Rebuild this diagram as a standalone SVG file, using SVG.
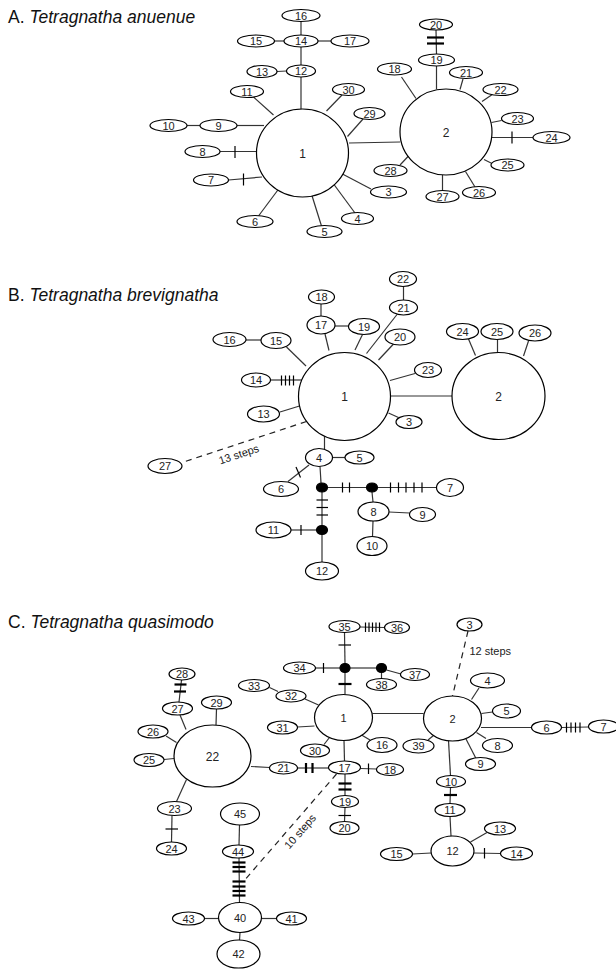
<svg xmlns="http://www.w3.org/2000/svg" width="616" height="970" viewBox="0 0 616 970">
<style>
.bg{fill:#fff}
ellipse{fill:#fff;stroke:#000;stroke-width:1.2}
.dot{fill:#000;stroke:#000}
text{font-family:"Liberation Sans",Arial,sans-serif;font-size:11px;fill:#222;text-anchor:middle}
.big{font-size:12px}
.title{font-size:17.5px;text-anchor:start;fill:#111}
.it{font-style:italic}
#edges line{stroke:#333;stroke-width:1.2}
#edges .dash{stroke:#222;stroke-dasharray:6,5;stroke-width:1.2}
#ticks line{stroke:#000;stroke-width:1.2}
#ticks .tk{stroke-width:2.2}
.step{font-size:11px;fill:#222}
</style>
<rect class="bg" x="0" y="0" width="616" height="970"/>
<text class="title" x="8" y="23">A. <tspan class="it">Tetragnatha anuenue</tspan></text>
<text class="title" x="8" y="301">B. <tspan class="it">Tetragnatha brevignatha</tspan></text>
<text class="title" x="8" y="628">C. <tspan class="it">Tetragnatha quasimodo</tspan></text>

<g id="edges">
<!-- Panel A -->
<line x1="349" y1="143" x2="400" y2="142"/>
<line x1="301" y1="77" x2="301" y2="109"/>
<line x1="301" y1="21.5" x2="301" y2="35"/>
<line x1="274.5" y1="41" x2="284" y2="41"/>
<line x1="318" y1="41" x2="331" y2="41"/>
<line x1="301" y1="47" x2="301" y2="65"/>
<line x1="277" y1="71.5" x2="286.5" y2="71"/>
<line x1="273.5" y1="115" x2="253.5" y2="97"/>
<line x1="326.5" y1="111" x2="342" y2="95"/>
<line x1="347.5" y1="136.5" x2="363" y2="119"/>
<line x1="187" y1="125.5" x2="200" y2="125.5"/>
<line x1="237" y1="125.5" x2="264" y2="125.5"/>
<line x1="220" y1="151.5" x2="256.5" y2="151.5"/>
<line x1="228.5" y1="180" x2="262" y2="177"/>
<line x1="279" y1="188.5" x2="258.5" y2="216"/>
<line x1="311" y1="192.5" x2="321.5" y2="226"/>
<line x1="332.5" y1="182.5" x2="355" y2="213"/>
<line x1="341.5" y1="173.5" x2="371" y2="189"/>
<line x1="416" y1="98.5" x2="401.5" y2="77"/>
<line x1="436.5" y1="66" x2="436.5" y2="89"/>
<line x1="436" y1="30" x2="436.5" y2="54"/>
<line x1="460" y1="89.5" x2="463" y2="79"/>
<line x1="482" y1="101.5" x2="493" y2="94"/>
<line x1="491.5" y1="122.5" x2="501.5" y2="120.5"/>
<line x1="492" y1="137.5" x2="533" y2="137.5"/>
<line x1="484" y1="159.5" x2="495" y2="165"/>
<line x1="465.5" y1="171.5" x2="475" y2="187"/>
<line x1="442.5" y1="175" x2="442.5" y2="190.5"/>
<line x1="408.5" y1="156" x2="400" y2="165"/>
<!-- Panel B -->
<line x1="390.5" y1="396" x2="452" y2="396"/>
<line x1="388.5" y1="413" x2="398.5" y2="417.5"/>
<line x1="324.5" y1="436" x2="324.5" y2="449"/>
<line x1="332.5" y1="457.5" x2="345" y2="457.5"/>
<line x1="309" y1="465" x2="288" y2="481.5"/>
<line x1="320" y1="466.5" x2="321" y2="483"/>
<line x1="322" y1="487.5" x2="372" y2="487.5"/>
<line x1="372" y1="487.5" x2="436.5" y2="487.5"/>
<line x1="372" y1="492" x2="373" y2="502"/>
<line x1="389" y1="512" x2="409.5" y2="513"/>
<line x1="373" y1="521" x2="372.5" y2="536.5"/>
<line x1="322" y1="487.5" x2="322" y2="530"/>
<line x1="291" y1="530" x2="322" y2="530"/>
<line x1="322" y1="530" x2="322" y2="562"/>
<line x1="280" y1="412" x2="299.5" y2="406"/>
<line x1="270.5" y1="380" x2="302" y2="380"/>
<line x1="286.5" y1="347" x2="306" y2="366"/>
<line x1="246" y1="340" x2="261" y2="340"/>
<line x1="329" y1="350.5" x2="325" y2="334"/>
<line x1="321" y1="304" x2="321" y2="316"/>
<line x1="335" y1="326" x2="348.5" y2="326"/>
<line x1="355" y1="350" x2="362.5" y2="334.5"/>
<line x1="366.5" y1="353.5" x2="397" y2="314.5"/>
<line x1="403.5" y1="300" x2="403.5" y2="286.5"/>
<line x1="378.5" y1="360" x2="393.5" y2="344"/>
<line x1="390" y1="380.5" x2="415" y2="373.5"/>
<line x1="468.5" y1="339" x2="475.5" y2="355.5"/>
<line x1="497.5" y1="339.5" x2="497.5" y2="352.5"/>
<line x1="528.5" y1="341" x2="523.5" y2="356"/>
<line class="dash" x1="306.5" y1="421.5" x2="182" y2="462.5"/>
<!-- Panel C -->
<line x1="372.5" y1="713.5" x2="423.5" y2="713.5"/>
<line x1="345" y1="672" x2="345" y2="694.5"/>
<line x1="344.5" y1="632.5" x2="345" y2="664"/>
<line x1="360" y1="627" x2="384.5" y2="627.5"/>
<line x1="315.5" y1="668" x2="340" y2="668"/>
<line x1="350" y1="668" x2="376.5" y2="668"/>
<line x1="381.5" y1="672.5" x2="381.5" y2="678.5"/>
<line x1="386.5" y1="670" x2="401" y2="674"/>
<line x1="269.5" y1="687.5" x2="278" y2="691.5"/>
<line x1="305" y1="699" x2="318.5" y2="705"/>
<line x1="297.5" y1="727" x2="314.5" y2="726"/>
<line x1="324" y1="744.5" x2="329.5" y2="737.5"/>
<line x1="361.5" y1="735" x2="370" y2="740"/>
<line x1="344" y1="740.5" x2="344.5" y2="761"/>
<line x1="297.5" y1="768" x2="328.5" y2="768"/>
<line x1="360.5" y1="768.5" x2="376.5" y2="769"/>
<line x1="345" y1="774" x2="345" y2="795.5"/>
<line x1="345" y1="807.5" x2="344.5" y2="821.5"/>
<line class="dash" x1="336.5" y1="774" x2="243" y2="882"/>
<line x1="239.5" y1="825" x2="239" y2="845"/>
<line x1="239" y1="858" x2="239.5" y2="902.5"/>
<line x1="204.5" y1="918.5" x2="218.5" y2="918.5"/>
<line x1="261.5" y1="918.5" x2="276.5" y2="918.5"/>
<line x1="240" y1="932.5" x2="239.5" y2="940"/>
<line x1="251" y1="766.5" x2="269.5" y2="767.5"/>
<line x1="216" y1="725" x2="216.5" y2="709"/>
<line x1="186" y1="729.5" x2="180" y2="715"/>
<line x1="181.5" y1="680" x2="179" y2="702"/>
<line x1="166" y1="736" x2="176.5" y2="742.5"/>
<line x1="164" y1="759.5" x2="174" y2="758.5"/>
<line x1="186.5" y1="779.5" x2="176.5" y2="801.5"/>
<line x1="172" y1="815.5" x2="171.5" y2="842"/>
<line class="dash" x1="468" y1="631" x2="452.5" y2="696"/>
<line x1="471.5" y1="699.5" x2="479" y2="688"/>
<line x1="481.5" y1="713.5" x2="492.5" y2="712"/>
<line x1="481" y1="727.5" x2="531.5" y2="727.5"/>
<line x1="561.5" y1="727.5" x2="588.5" y2="727"/>
<line x1="476.5" y1="732.5" x2="486" y2="738.5"/>
<line x1="466" y1="739" x2="476" y2="758.5"/>
<line x1="433.5" y1="735.5" x2="428" y2="740"/>
<line x1="448.5" y1="740.5" x2="450.5" y2="775.5"/>
<line x1="450.5" y1="787.5" x2="450" y2="803.5"/>
<line x1="450" y1="816.5" x2="451" y2="836"/>
<line x1="470.5" y1="842" x2="487" y2="832.5"/>
<line x1="474" y1="853" x2="500.5" y2="853.5"/>
<line x1="412.5" y1="854" x2="431" y2="853"/>
</g>

<g id="ticks">
<!-- A -->
<line class="tk" x1="427" y1="37.5" x2="444" y2="37.5"/>
<line class="tk" x1="427" y1="43.5" x2="444" y2="43.5"/>
<line x1="235" y1="146" x2="235" y2="158"/>
<line x1="243.5" y1="173.5" x2="243.5" y2="185.5"/>
<line x1="512" y1="131.5" x2="512" y2="143.5"/>
<!-- B -->
<line x1="281.5" y1="375.5" x2="281.5" y2="385.5"/>
<line x1="285.5" y1="375.5" x2="285.5" y2="385.5"/>
<line x1="289.5" y1="375.5" x2="289.5" y2="385.5"/>
<line x1="293.5" y1="375.5" x2="293.5" y2="385.5"/>
<line x1="296" y1="467" x2="300.5" y2="477.5"/>
<line x1="342.5" y1="482.5" x2="342.5" y2="492.5"/>
<line x1="349.5" y1="482.5" x2="349.5" y2="492.5"/>
<line x1="390.5" y1="482.5" x2="390.5" y2="492.5"/>
<line x1="398.5" y1="482.5" x2="398.5" y2="492.5"/>
<line x1="406" y1="482.5" x2="406" y2="492.5"/>
<line x1="414" y1="482.5" x2="414" y2="492.5"/>
<line x1="422" y1="482.5" x2="422" y2="492.5"/>
<line x1="316.5" y1="500" x2="328" y2="500"/>
<line x1="316.5" y1="507.5" x2="328" y2="507.5"/>
<line x1="316.5" y1="515" x2="328" y2="515"/>
<line x1="301" y1="525" x2="301" y2="535"/>
<!-- C -->
<line x1="365.5" y1="622.5" x2="365.5" y2="632"/>
<line x1="369" y1="622.5" x2="369" y2="632"/>
<line x1="372.5" y1="622.5" x2="372.5" y2="632"/>
<line x1="376" y1="622.5" x2="376" y2="632"/>
<line x1="379.5" y1="622.5" x2="379.5" y2="632"/>
<line x1="338.5" y1="645" x2="351" y2="645"/>
<line x1="323.5" y1="663" x2="323.5" y2="673"/>
<line class="tk" x1="338.5" y1="684" x2="351.5" y2="684"/>
<line class="tk" x1="306" y1="763" x2="306" y2="773"/>
<line class="tk" x1="312.5" y1="763" x2="312.5" y2="773"/>
<line x1="368.5" y1="763.5" x2="368.5" y2="774"/>
<line class="tk" x1="338.5" y1="783.5" x2="351.5" y2="783.5"/>
<line class="tk" x1="338.5" y1="789.5" x2="351.5" y2="789.5"/>
<line x1="338.5" y1="815.5" x2="351" y2="815.5"/>
<line class="tk" x1="232.5" y1="862.5" x2="245.5" y2="862.5"/>
<line class="tk" x1="232.5" y1="867" x2="245.5" y2="867"/>
<line class="tk" x1="232.5" y1="871.5" x2="245.5" y2="871.5"/>
<line class="tk" x1="232.5" y1="881.5" x2="245.5" y2="881.5"/>
<line class="tk" x1="232.5" y1="886.5" x2="245.5" y2="886.5"/>
<line class="tk" x1="232.5" y1="891" x2="245.5" y2="891"/>
<line class="tk" x1="232.5" y1="895.5" x2="245.5" y2="895.5"/>
<line class="tk" x1="174.5" y1="684.5" x2="186.5" y2="684.5"/>
<line class="tk" x1="174" y1="691.5" x2="186" y2="691.5"/>
<line x1="165.5" y1="829" x2="178" y2="829"/>
<line x1="566.5" y1="722.5" x2="566.5" y2="732.5"/>
<line x1="571" y1="722.5" x2="571" y2="732.5"/>
<line x1="575.5" y1="722.5" x2="575.5" y2="732.5"/>
<line x1="580" y1="722.5" x2="580" y2="732.5"/>
<line class="tk" x1="444" y1="795" x2="457" y2="795"/>
<line x1="484.5" y1="848" x2="484.5" y2="858.5"/>
</g>

<text class="step" transform="translate(240,458) rotate(-18.3)">13 steps</text>
<text class="step" x="469.5" y="654.5" style="text-anchor:start">12 steps</text>
<text class="step" transform="translate(303,834) rotate(-49)">10 steps</text>

<!-- Panel A nodes -->
<g id="a1"><ellipse cx="302.5" cy="153" rx="46" ry="44"/><text class="big" x="302.5" y="157.5">1</text></g>
<g id="a2"><ellipse cx="446" cy="132" rx="46" ry="43"/><text class="big" x="446" y="136.5">2</text></g>
<g id="a3"><ellipse cx="388.5" cy="192" rx="18" ry="6"/><text x="388.5" y="196">3</text></g>
<g id="a4"><ellipse cx="357.5" cy="218.5" rx="16" ry="6"/><text x="357.5" y="222.5">4</text></g>
<g id="a5"><ellipse cx="324.5" cy="231.5" rx="17.5" ry="6"/><text x="324.5" y="235.5">5</text></g>
<g id="a6"><ellipse cx="255" cy="221.5" rx="18" ry="6"/><text x="255" y="225.5">6</text></g>
<g id="a7"><ellipse cx="211" cy="180" rx="17.5" ry="6"/><text x="211" y="184">7</text></g>
<g id="a8"><ellipse cx="202.5" cy="151.5" rx="17.5" ry="6"/><text x="202.5" y="155.5">8</text></g>
<g id="a9"><ellipse cx="218.5" cy="125.5" rx="18.5" ry="6"/><text x="218.5" y="129.5">9</text></g>
<g id="a10"><ellipse cx="168.5" cy="125.5" rx="18.5" ry="6"/><text x="168.5" y="129.5">10</text></g>
<g id="a11"><ellipse cx="247" cy="91.5" rx="16.5" ry="6"/><text x="247" y="95.5">11</text></g>
<g id="a12"><ellipse cx="301" cy="71" rx="14.5" ry="6"/><text x="301" y="75">12</text></g>
<g id="a13"><ellipse cx="262" cy="71.5" rx="15" ry="6"/><text x="262" y="75.5">13</text></g>
<g id="a14"><ellipse cx="301" cy="41" rx="17" ry="6"/><text x="301" y="45">14</text></g>
<g id="a15"><ellipse cx="256" cy="41" rx="18.5" ry="6"/><text x="256" y="45">15</text></g>
<g id="a16"><ellipse cx="301" cy="15.5" rx="19" ry="6"/><text x="301" y="19.5">16</text></g>
<g id="a17"><ellipse cx="350" cy="41" rx="19" ry="6"/><text x="350" y="45">17</text></g>
<g id="a18"><ellipse cx="394.5" cy="69" rx="17" ry="6"/><text x="394.5" y="73">18</text></g>
<g id="a19"><ellipse cx="436.5" cy="60" rx="18" ry="6"/><text x="436.5" y="64">19</text></g>
<g id="a20"><ellipse cx="436" cy="24.5" rx="16.5" ry="5.5"/><text x="436" y="28.5">20</text></g>
<g id="a21"><ellipse cx="466" cy="72.5" rx="16.5" ry="6"/><text x="466" y="76.5">21</text></g>
<g id="a22"><ellipse cx="500.5" cy="89.5" rx="17.5" ry="6"/><text x="500.5" y="93.5">22</text></g>
<g id="a23"><ellipse cx="517.5" cy="118.5" rx="16" ry="6"/><text x="517.5" y="122.5">23</text></g>
<g id="a24"><ellipse cx="551.5" cy="137.5" rx="18.5" ry="6"/><text x="551.5" y="141.5">24</text></g>
<g id="a25"><ellipse cx="507.5" cy="165" rx="16.5" ry="6"/><text x="507.5" y="169">25</text></g>
<g id="a26"><ellipse cx="479" cy="192.5" rx="16.5" ry="6"/><text x="479" y="196.5">26</text></g>
<g id="a27"><ellipse cx="442.5" cy="196.5" rx="16.5" ry="6"/><text x="442.5" y="200.5">27</text></g>
<g id="a28"><ellipse cx="390.5" cy="170.5" rx="16.5" ry="6"/><text x="390.5" y="174.5">28</text></g>
<g id="a29"><ellipse cx="369.5" cy="113.5" rx="15.5" ry="6"/><text x="369.5" y="117.5">29</text></g>
<g id="a30"><ellipse cx="348.5" cy="89.5" rx="16" ry="6"/><text x="348.5" y="93.5">30</text></g>

<!-- Panel B nodes -->
<g id="b1"><ellipse cx="344.5" cy="396.5" rx="46" ry="44"/><text class="big" x="344.5" y="401">1</text></g>
<g id="b2"><ellipse cx="498.5" cy="396" rx="46.5" ry="43.5"/><text class="big" x="498.5" y="400.5">2</text></g>
<g id="b3"><ellipse cx="409" cy="422" rx="13" ry="6.5"/><text x="409" y="426">3</text></g>
<g id="b4"><ellipse cx="319" cy="457.5" rx="13.5" ry="9"/><text x="319" y="461.5">4</text></g>
<g id="b5"><ellipse cx="359.5" cy="457.5" rx="14.5" ry="6.5"/><text x="359.5" y="461.5">5</text></g>
<g id="b6"><ellipse cx="281" cy="489" rx="17.5" ry="7.5"/><text x="281" y="493">6</text></g>
<g id="b7"><ellipse cx="450" cy="487.5" rx="13.5" ry="9"/><text x="450" y="491.5">7</text></g>
<g id="b8"><ellipse cx="373.5" cy="511.5" rx="15.5" ry="9.5"/><text x="373.5" y="515.5">8</text></g>
<g id="b9"><ellipse cx="422.5" cy="514.5" rx="13" ry="7"/><text x="422.5" y="518.5">9</text></g>
<g id="b10"><ellipse cx="372" cy="546" rx="15" ry="9.5"/><text x="372" y="550">10</text></g>
<g id="b11"><ellipse cx="273.5" cy="530" rx="17.5" ry="8"/><text x="273.5" y="534">11</text></g>
<g id="b12"><ellipse cx="322" cy="571" rx="16.5" ry="9"/><text x="322" y="575">12</text></g>
<g id="b13"><ellipse cx="263.5" cy="414" rx="16" ry="8"/><text x="263.5" y="418">13</text></g>
<g id="b14"><ellipse cx="256" cy="380" rx="14.5" ry="7"/><text x="256" y="384">14</text></g>
<g id="b15"><ellipse cx="276" cy="340.5" rx="15" ry="8"/><text x="276" y="344.5">15</text></g>
<g id="b16"><ellipse cx="229.5" cy="339.5" rx="16.5" ry="7"/><text x="229.5" y="343.5">16</text></g>
<g id="b17"><ellipse cx="321" cy="325" rx="14" ry="9"/><text x="321" y="329">17</text></g>
<g id="b18"><ellipse cx="321.5" cy="297" rx="13" ry="7"/><text x="321.5" y="301">18</text></g>
<g id="b19"><ellipse cx="364" cy="326.5" rx="15.5" ry="8"/><text x="364" y="330.5">19</text></g>
<g id="b20"><ellipse cx="400" cy="337" rx="15" ry="8"/><text x="400" y="341">20</text></g>
<g id="b21"><ellipse cx="403.5" cy="307.5" rx="14" ry="7.5"/><text x="403.5" y="311.5">21</text></g>
<g id="b22"><ellipse cx="403" cy="279" rx="13.5" ry="7.5"/><text x="403" y="283">22</text></g>
<g id="b23"><ellipse cx="428" cy="370" rx="13.5" ry="7.5"/><text x="428" y="374">23</text></g>
<g id="b24"><ellipse cx="462.5" cy="331.5" rx="16" ry="8"/><text x="462.5" y="335.5">24</text></g>
<g id="b25"><ellipse cx="497" cy="331.5" rx="16" ry="8"/><text x="497" y="335.5">25</text></g>
<g id="b26"><ellipse cx="535" cy="333" rx="16" ry="8"/><text x="535" y="337">26</text></g>
<g id="b27"><ellipse cx="165" cy="466" rx="17" ry="7.5"/><text x="165" y="470">27</text></g>
<g id="bm1"><ellipse class="dot" cx="322" cy="487.5" rx="5.5" ry="4.5"/></g>
<g id="bm2"><ellipse class="dot" cx="372" cy="487.5" rx="5.5" ry="4.5"/></g>
<g id="bm3"><ellipse class="dot" cx="322" cy="530" rx="5.5" ry="4.5"/></g>

<!-- Panel C nodes -->
<g id="c1"><ellipse cx="343.5" cy="717.5" rx="29" ry="23"/><text x="343.5" y="721.5">1</text></g>
<g id="c2"><ellipse cx="452.5" cy="718.5" rx="29" ry="22.5"/><text x="452.5" y="722.5">2</text></g>
<g id="c3"><ellipse cx="469.5" cy="624.5" rx="12.5" ry="6.5"/><text x="469.5" y="628.5">3</text></g>
<g id="c4"><ellipse cx="487.5" cy="680.5" rx="17" ry="7.5"/><text x="487.5" y="684.5">4</text></g>
<g id="c5"><ellipse cx="506.5" cy="711" rx="14" ry="7"/><text x="506.5" y="715">5</text></g>
<g id="c6"><ellipse cx="546.5" cy="727.5" rx="15" ry="6.5"/><text x="546.5" y="731.5">6</text></g>
<g id="c7"><ellipse cx="603.5" cy="726.5" rx="15" ry="6.5"/><text x="603.5" y="730.5">7</text></g>
<g id="c8"><ellipse cx="497.5" cy="745.5" rx="15" ry="7"/><text x="497.5" y="749.5">8</text></g>
<g id="c9"><ellipse cx="480.5" cy="764" rx="15" ry="6.5"/><text x="480.5" y="768">9</text></g>
<g id="c10"><ellipse cx="451" cy="781.5" rx="14.5" ry="6"/><text x="451" y="785.5">10</text></g>
<g id="c11"><ellipse cx="450" cy="810" rx="15" ry="6.5"/><text x="450" y="814">11</text></g>
<g id="c12"><ellipse cx="452.5" cy="851" rx="21.5" ry="15"/><text x="452.5" y="855">12</text></g>
<g id="c13"><ellipse cx="500" cy="828.5" rx="15.5" ry="6.5"/><text x="500" y="832.5">13</text></g>
<g id="c14"><ellipse cx="516.5" cy="853.5" rx="16" ry="6.5"/><text x="516.5" y="857.5">14</text></g>
<g id="c15"><ellipse cx="396.5" cy="854" rx="16" ry="6.5"/><text x="396.5" y="858">15</text></g>
<g id="c16"><ellipse cx="382" cy="745" rx="15" ry="7.5"/><text x="382" y="749">16</text></g>
<g id="c17"><ellipse cx="344.5" cy="767.5" rx="16" ry="6.5"/><text x="344.5" y="771.5">17</text></g>
<g id="c18"><ellipse cx="390" cy="769.5" rx="13.5" ry="6"/><text x="390" y="773.5">18</text></g>
<g id="c19"><ellipse cx="345" cy="801.5" rx="13.5" ry="6"/><text x="345" y="805.5">19</text></g>
<g id="c20"><ellipse cx="344.5" cy="828" rx="14.5" ry="6.5"/><text x="344.5" y="832">20</text></g>
<g id="c21"><ellipse cx="283.5" cy="768" rx="14" ry="6"/><text x="283.5" y="772">21</text></g>
<g id="c22"><ellipse cx="212.5" cy="756" rx="38.5" ry="31"/><text class="big" x="212.5" y="760.5">22</text></g>
<g id="c23"><ellipse cx="174.5" cy="808.5" rx="17" ry="7"/><text x="174.5" y="812.5">23</text></g>
<g id="c24"><ellipse cx="171.5" cy="848.5" rx="15" ry="6.5"/><text x="171.5" y="852.5">24</text></g>
<g id="c25"><ellipse cx="149" cy="760" rx="15" ry="6.5"/><text x="149" y="764">25</text></g>
<g id="c26"><ellipse cx="153" cy="731.5" rx="15" ry="6.5"/><text x="153" y="735.5">26</text></g>
<g id="c27"><ellipse cx="177.5" cy="708.5" rx="15" ry="6.5"/><text x="177.5" y="712.5">27</text></g>
<g id="c28"><ellipse cx="182" cy="674" rx="13" ry="6"/><text x="182" y="678">28</text></g>
<g id="c29"><ellipse cx="216.5" cy="702.5" rx="15" ry="6.5"/><text x="216.5" y="706.5">29</text></g>
<g id="c30"><ellipse cx="315" cy="750.5" rx="14.5" ry="6.5"/><text x="315" y="754.5">30</text></g>
<g id="c31"><ellipse cx="282.5" cy="727.5" rx="15" ry="6.5"/><text x="282.5" y="731.5">31</text></g>
<g id="c32"><ellipse cx="291" cy="696" rx="15" ry="6"/><text x="291" y="700">32</text></g>
<g id="c33"><ellipse cx="254" cy="685.5" rx="15.5" ry="6"/><text x="254" y="689.5">33</text></g>
<g id="c34"><ellipse cx="299.5" cy="668" rx="16" ry="6"/><text x="299.5" y="672">34</text></g>
<g id="c35"><ellipse cx="344.5" cy="626.5" rx="15.5" ry="6"/><text x="344.5" y="630.5">35</text></g>
<g id="c36"><ellipse cx="397" cy="627.5" rx="12.5" ry="6"/><text x="397" y="631.5">36</text></g>
<g id="c37"><ellipse cx="415" cy="674.5" rx="14.5" ry="6"/><text x="415" y="678.5">37</text></g>
<g id="c38"><ellipse cx="381.5" cy="684.5" rx="15" ry="6"/><text x="381.5" y="688.5">38</text></g>
<g id="c39"><ellipse cx="418.5" cy="746" rx="15.5" ry="7"/><text x="418.5" y="750">39</text></g>
<g id="c40"><ellipse cx="240" cy="917.5" rx="21.5" ry="15"/><text x="240" y="921.5">40</text></g>
<g id="c41"><ellipse cx="291.5" cy="918.5" rx="15" ry="6.5"/><text x="291.5" y="922.5">41</text></g>
<g id="c42"><ellipse cx="238.5" cy="954" rx="21.5" ry="14"/><text x="238.5" y="958">42</text></g>
<g id="c43"><ellipse cx="188.5" cy="918.5" rx="16" ry="6.5"/><text x="188.5" y="922.5">43</text></g>
<g id="c44"><ellipse cx="238" cy="851.5" rx="15.5" ry="6.5"/><text x="238" y="855.5">44</text></g>
<g id="c45"><ellipse cx="240" cy="814" rx="19.5" ry="11"/><text x="240" y="818">45</text></g>
<g id="cmA"><ellipse class="dot" cx="345" cy="668" rx="5" ry="4.5"/></g>
<g id="cmB"><ellipse class="dot" cx="381.5" cy="668" rx="5" ry="4.5"/></g>
</svg>
